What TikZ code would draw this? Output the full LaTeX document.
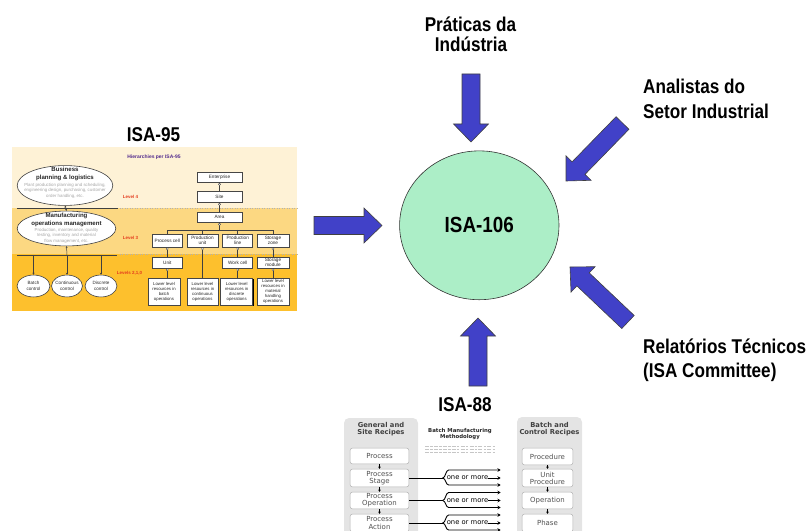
\documentclass[tikz,border=0pt]{standalone}
\usepackage{fontspec}
\usepackage{graphicx}
\setmainfont{Liberation Sans}
\newfontfamily\dejavu{DejaVu Sans}
\usetikzlibrary{calc,arrows.meta,shapes.geometric,shadows}

\definecolor{arrowblue}{RGB}{65,65,200}
\definecolor{mint}{RGB}{172,238,199}
\definecolor{cream}{RGB}{254,242,214}
\definecolor{bandtwo}{RGB}{252,216,130}
\definecolor{bandthree}{RGB}{253,192,45}
\definecolor{lvlred}{RGB}{228,60,30}
\definecolor{ttlpurple}{RGB}{80,40,140}
\definecolor{panelgrey}{RGB}{228,228,228}

\newcommand\cx[1]{\scalebox{0.86}[1]{#1}}
\newcommand\bw{9bp}
\newcommand\bh{17.5bp}
\newcommand\bl{18bp}
\newcommand\blockarrow[2]{%
  \coordinate (hb) at ($(#2)!\bl!(#1)$);
  \draw[barrow] ($(#1)!\bw!90:(#2)$) -- ($(hb)!\bw!-90:(#1)$) -- ($(hb)!\bh!-90:(#1)$)
    -- (#2) -- ($(hb)!\bh!90:(#1)$) -- ($(hb)!\bw!90:(#1)$) -- ($(#1)!\bw!-90:(#2)$) -- cycle;}
\newcommand\knob[1]{\filldraw[fill=white,draw=gray!50!black,line width=0.3] (#1) circle (1.1bp);}

\begin{document}
\begin{tikzpicture}[x=1bp,y=1bp,
  barrow/.style={fill=arrowblue, draw=black!75, line width=0.6, line join=miter},
  lbl/.style={font=\bfseries\fontsize{20}{24}\selectfont, inner sep=0},
  lnf/.style={draw=gray!50!black, line width=0.5},
  ellf/.style={ellipse, draw=gray!50!black, fill=white, line width=0.6, inner sep=0},
  tb/.style={font=\bfseries\fontsize{6.1}{7.2}\selectfont, align=center, inner sep=0, text=black!85},
  tg/.style={font=\fontsize{4.4}{5.6}\selectfont, align=center, inner sep=0, text=gray!70},
  tc/.style={font=\fontsize{4.6}{5.4}\selectfont, align=center, inner sep=0, text=gray!35!black},
  lvl/.style={font=\bfseries\fontsize{4.5}{5}\selectfont, text=lvlred, inner sep=0},
  boxf/.style={draw=gray!55!black, fill=white, line width=0.6, inner sep=0,
    font=\fontsize{4.7}{5.1}\selectfont, text=gray!30!black, align=center},
  lowbox/.style={boxf, minimum height=27, font=\fontsize{4.3}{5}\selectfont,
    drop shadow={shadow xshift=1.3bp, shadow yshift=-1.3bp, fill=black, opacity=1}},
  panel/.style={fill=panelgrey, rounded corners=5},
  ptitle/.style={font=\dejavu\bfseries\fontsize{6.8}{7.6}\selectfont, align=center, text=black!75, inner sep=0},
  bx/.style={draw=gray!60, fill=white, rounded corners=2.5, line width=0.5, inner sep=0,
    font=\dejavu\fontsize{7}{7.2}\selectfont, text=black!68, align=center},
  dar/.style={line width=0.9, -{Stealth[length=2.2bp,width=2.6bp]}},
  har/.style={line width=0.9, -{Stealth[length=3.2bp,width=3.6bp]}},
]
\useasboundingbox (0,0) rectangle (809,-531);

% ---------------- big labels ----------------
\node[lbl, anchor=base] (prat1) at (470.5,-32) {\cx{Práticas da}};
\node[lbl, anchor=base] (prat2) at (471,-52) {\cx{Indústria}};
\node[lbl, anchor=base west] (ana1) at (643,-94) {\cx{Analistas do}};
\node[lbl, anchor=base west] (ana2) at (643,-119) {\cx{Setor Industrial}};
\node[lbl, anchor=base west] (rel1) at (643,-353) {\cx{Relatórios Técnicos}};
\node[lbl, anchor=base west] (rel2) at (643,-377) {\cx{(ISA Committee)}};
\node[lbl, anchor=base] (isa95) at (153.5,-142) {\cx{ISA-95}};
\node[lbl, anchor=base] (isa88) at (465,-411) {\cx{ISA-88}};

% ---------------- central ellipse ----------------
\node[ellipse, draw=black!80, fill=mint, line width=0.6, minimum width=160, minimum height=149.4,
  inner sep=0, font=\bfseries\fontsize{22}{24}\selectfont] (isa106) at (479.3,-225.3) {\cx{ISA-106}};

% ---------------- block arrows ----------------
\coordinate (tT) at (471,-74);   \coordinate (hT) at (471,-142);
\coordinate (tL) at (314,-225.5); \coordinate (hL) at (382,-225.5);
\coordinate (tB) at (478,-386);  \coordinate (hB) at (478,-318);
\coordinate (tUR) at (622.5,-123); \coordinate (hUR) at (566,-181);
\coordinate (tLR) at (628,-322); \coordinate (hLR) at (570,-267);
\blockarrow{tT}{hT}
\blockarrow{tL}{hL}
\blockarrow{tB}{hB}
\blockarrow{tUR}{hUR}
\blockarrow{tLR}{hLR}

% ---------------- ISA-95 picture ----------------
\fill[cream] (12,-147) rectangle (297,-208);
\fill[bandtwo] (12,-208) rectangle (297,-254);
\fill[bandthree] (12,-254) rectangle (297,-311);
\draw[lnf] (17,-208) -- (118,-208);
\draw[gray!60, dotted, line width=0.5] (120,-208) -- (297,-208);
\draw[gray!60, dotted, line width=0.5] (120,-254) -- (297,-254);

\node[font=\bfseries\fontsize{5}{6}\selectfont, text=ttlpurple, inner sep=0] (h95) at (154,-157.5) {Hierarchies per ISA-95};

\node[ellf, minimum width=96, minimum height=40] (bpl) at (65,-185.5) {};
\node[tb] (bplt) at (65,-174) {Business\\planning \& logistics};
\node[tg] (bpld) at (65,-190.5) {Plant production planning and scheduling,\\engineering design, purchasing, customer\\order handling, etc.};

\node[ellf, minimum width=99, minimum height=35] (mom) at (66.5,-228.5) {};
\node[tb] (momt) at (66.5,-220) {Manufacturing\\operations management};
\node[tg] (momd) at (66.5,-235.5) {Production, maintenance, quality\\testing, inventory and material\\flow management, etc.};

\draw[lnf, {Stealth[length=1.8bp,width=2bp]}-{Stealth[length=1.8bp,width=2bp]}] (bpl.south) -- (mom.north);

\node[ellf, minimum width=33, minimum height=22] (bc) at (33.5,-286) {};
\node[ellf, minimum width=31, minimum height=22] (cc) at (67,-286) {};
\node[ellf, minimum width=32, minimum height=22] (dc) at (101,-286) {};
\node[tc] at (bc) {Batch\\control};
\node[tc] at (cc) {Continuous\\control};
\node[tc] at (dc) {Discrete\\control};

\coordinate (cbus) at (67,-255);
\draw[lnf, line width=0.8] (17,-255) -- (117,-255);
\draw[lnf, {Stealth[length=1.8bp,width=2bp]}-] (mom.south) -- (cbus);
\draw[lnf, -{Stealth[length=2bp,width=2.2bp]}] (bc.north |- cbus) -- (bc.north);
\draw[lnf, -{Stealth[length=2bp,width=2.2bp]}] (cbus) -- (cc.north);
\draw[lnf, -{Stealth[length=2bp,width=2.2bp]}] (dc.north |- cbus) -- (dc.north);

\node[lvl] (l4) at (130.5,-196.5) {Level 4};
\node[lvl] (l3) at (130.5,-238) {Level 3};
\node[lvl] (l210) at (129.5,-273) {Levels 2,1,0};

% hierarchy boxes
\node[boxf, minimum width=45, minimum height=10] (ent) at (219.5,-177) {Enterprise};
\node[boxf, minimum width=45, minimum height=11] (site) at (219.5,-196.5) {Site};
\node[boxf, minimum width=45, minimum height=10] (area) at (219.5,-217) {Area};
\draw[lnf] (ent.south) -- (site.north);
\draw[lnf] (site.south) -- (area.north);
\knob{$(ent.south)+(0,-2)$}
\knob{$(site.south)+(0,-2)$}

\node[boxf, minimum width=31, minimum height=13] (pc) at (167.3,-240.5) {Process cell};
\node[boxf, minimum width=31, minimum height=13] (pu) at (202.5,-240.5) {Production\\unit};
\node[boxf, minimum width=30, minimum height=13] (pl) at (237.7,-240.5) {Production\\line};
\node[boxf, minimum width=32, minimum height=13] (sz) at (273,-240.5) {Storage\\zone};

\coordinate (bus) at (219.5,-230);
\draw[lnf] (area.south) -- (bus);
\knob{$(area.south)+(0,-2)$}
\draw[lnf] (pc.north) -- (pc.north |- bus) -- (sz.north |- bus) -- (sz.north);
\draw[lnf] (pu.north |- bus) -- (pu.north);
\draw[lnf] (pl.north |- bus) -- (pl.north);

\node[boxf, minimum width=31, minimum height=11] (unit) at (167.3,-262.5) {Unit};
\node[boxf, minimum width=30, minimum height=11] (wc) at (237.7,-262.5) {Work cell};
\node[boxf, minimum width=32, minimum height=11] (sm) at (273,-262.5) {Storage\\module};

\node[lowbox, minimum width=32] (lb1) at (164,-291.5) {Lower level\\resources in\\batch\\operations};
\node[lowbox, minimum width=31] (lb2) at (202.5,-291.5) {Lower level\\resources in\\continuous\\operations};
\node[lowbox, minimum width=32] (lb3) at (236.7,-291.5) {Lower level\\resources in\\discrete\\operations};
\node[lowbox, minimum width=32] (lb4) at (273,-291.5) {Lower level\\resources in\\material\\handling\\operations};

\draw[lnf] (pc.south) -- (unit.north);
\draw[lnf] (pl.south) -- (wc.north);
\draw[lnf] (sz.south) -- (sm.north);
\draw[lnf] (pu.south) -- (lb2.north);
\draw[lnf] (unit.south) -- (unit.south |- lb1.north);
\draw[lnf] (wc.south) -- (wc.south |- lb3.north);
\draw[lnf] (sm.south) -- (lb4.north);
\foreach \n in {pc,pu,pl,sz,unit,wc,sm} {\knob{$(\n.south)+(0,-1.6)$}}

% ---------------- ISA-88 picture ----------------
\fill[panel] (344,-418) rectangle (418,-548);
\fill[panel] (517,-417) rectangle (582,-548);
\node[ptitle] (gsr) at (381,-429) {General and\\Site Recipes};
\node[ptitle] (bcr) at (549.5,-429) {Batch and\\Control Recipes};
\node[font=\dejavu\bfseries\fontsize{5.4}{6.6}\selectfont, align=center, inner sep=0, text=black!85] (bmm) at (460,-434) {Batch Manufacturing\\Methodology};
\foreach \yy in {446,449,452} {\draw[gray!45, line width=0.7, dash pattern=on 4bp off 1.2bp on 2.5bp off 1.2bp] (425,-\yy) -- (495,-\yy);}

\node[bx, minimum width=59, minimum height=16] (proc) at (379.5,-456) {Process};
\node[bx, minimum width=59, minimum height=18] (pstage) at (379.5,-478) {Process\\Stage};
\node[bx, minimum width=59, minimum height=17] (pop) at (379.5,-500.5) {Process\\Operation};
\node[bx, minimum width=59, minimum height=18] (pact) at (379.5,-523) {Process\\Action};

\node[bx, minimum width=51, minimum height=17] (procd) at (547.5,-456.5) {Procedure};
\node[bx, minimum width=51, minimum height=18] (uproc) at (547.5,-478) {Unit\\Procedure};
\node[bx, minimum width=51, minimum height=17] (oper) at (547.5,-500.5) {Operation};
\node[bx, minimum width=51, minimum height=18] (phase) at (547.5,-523) {Phase};

\draw[dar] (proc) -- (pstage);
\draw[dar] (pstage) -- (pop);
\draw[dar] (pop) -- (pact);
\draw[dar] (procd) -- (uproc);
\draw[dar] (uproc) -- (oper);
\draw[dar] (oper) -- (phase);

\foreach \src/\nm in {pstage/ra, pop/rb, pact/rc} {
  \coordinate (\nm) at ($(\src.east)+(33.5,0)$);
  \draw[line width=0.9] (\src.east) -- (\nm);
  \draw[har] (\nm) .. controls +(3,0) and +(-3,0) .. ($(\nm)+(6,8)$) -- ($(\nm)+(58,8)$);
  \draw[har] (\nm) .. controls +(3,0) and +(-3,0) .. ($(\nm)+(6,-7)$) -- ($(\nm)+(58,-7)$);
  \node[font=\dejavu\fontsize{6.8}{7}\selectfont, inner sep=0, anchor=west] (\nm t) at ($(\nm)+(4,0)$) {one or more};
  \draw[har] (\nm t.east) -- ($(\nm)+(58,0)$);
}
\end{tikzpicture}
\end{document}
